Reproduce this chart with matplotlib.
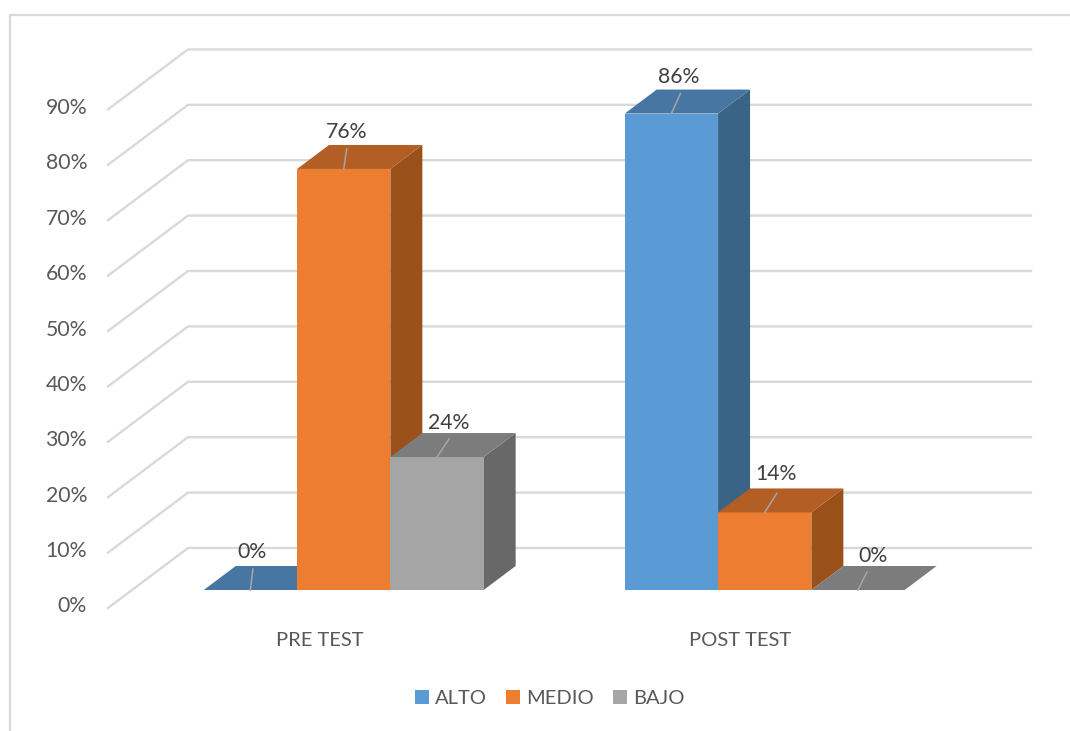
import matplotlib.pyplot as plt
from matplotlib.patches import Polygon, Rectangle

categories = ["PRE TEST", "POST TEST"]
series_names = ["ALTO", "MEDIO", "BAJO"]
alto = [0, 86]
medio = [76, 14]
bajo = [24, 0]
yticks = [0, 10, 20, 30, 40, 50, 60, 70, 80, 90]

front_cols = ["#5B9BD5", "#ED7D31", "#A5A5A5"]
top_cols = ["#4676A1", "#B25E25", "#7C7C7C"]
side_cols = ["#3A6485", "#995019", "#686868"]

plt.rcParams["font.family"] = ["Lato", "DejaVu Sans"]

W, H = 1070, 731
PX_X = 421.0    # pixels per category
PX_Y = 5.54     # pixels per percent
X0, Y0 = 343.7, 590.0   # pixel of category 0, value 0


def dx(px):
    return px / PX_X


def dy(px):
    return px / PX_Y


fig = plt.figure(figsize=(10.7, 7.31), dpi=100)
ax = fig.add_axes([0, 0, 1, 1])
ax.set_xlim(-X0 / PX_X, (W - X0) / PX_X)
ax.set_ylim(-(H - Y0) / PX_Y, Y0 / PX_Y)
ax.axis("off")

# chart frame, only left and top show in the picture
ax.plot([dx(9.5 - X0), dx(9.5 - X0), dx(W - X0)],
        [dy(Y0 - H), dy(Y0 - 14.5), dy(Y0 - 14.5)], color="#D9D9D9", lw=1.6)

# back wall grid with the slanted floor/side part
for v in yticks:
    ax.plot([dx(108 - X0), dx(188 - X0), dx(1031 - X0)],
            [v + dy(Y0 - 608), v + dy(Y0 - 548), v + dy(Y0 - 548)],
            color="#D9D9D9", lw=1.7, zorder=1)
    ax.text(dx(87 - X0), v + dy(Y0 - 606.5), "%d%%" % v, ha="right", va="center",
            fontsize=15.3, color="#595959")

width = 93.3 / PX_X
depth_x, depth_y = dx(32), dy(24)
values = [alto, medio, bajo]

# label and leader offsets in pixels from the front top centre of the bar
label_off = [[(2, -38), (7.5, -37)], [(2.5, -37), (11, -38)], [(12, -34), (15, -34.5)]]
leader_off = [[(2.5, -21), (9, -20)], [(3, -20), (12, -19)], [(12, -18), (9, -18)]]

z = 2
for c in range(len(categories)):
    for s in range(3):
        val = values[s][c]
        left = c + (s - 1.5) * width
        right = left + width
        ax.bar(left, val, width, align="edge", color=front_cols[s], zorder=z + 1)
        ax.add_patch(Polygon([(right, 0), (right + depth_x, depth_y),
                              (right + depth_x, val + depth_y), (right, val)],
                             closed=True, fc=side_cols[s], ec="none", zorder=z))
        ax.add_patch(Polygon([(left, val), (right, val),
                              (right + depth_x, val + depth_y), (left + depth_x, val + depth_y)],
                             closed=True, fc=top_cols[s], ec="none", zorder=z + 1))
        mid = left + width / 2
        lx, ly = leader_off[s][c]
        ax.plot([mid, mid + dx(lx)], [val, val - dy(ly)], color="#A6A6A6", lw=1.1, zorder=z + 2)
        tx, ty = label_off[s][c]
        ax.text(mid + dx(tx), val - dy(ty), "%d%%" % val, ha="center", va="center",
                fontsize=15.3, color="#404040", zorder=20)
        z += 3

for c, name in enumerate(categories):
    ax.text(c - dx(24 if c == 0 else 25), dy(Y0 - 640), name, ha="center", va="center",
            fontsize=14.5, color="#595959")

handles = [Rectangle((0, 0), 1, 1, fc=col, ec="none") for col in front_cols]
fig.legend(handles, series_names, loc="center", bbox_to_anchor=(550 / W, 1 - 698.5 / H),
           ncol=3, frameon=False, fontsize=14.5, labelcolor="#595959",
           handlelength=0.7, handleheight=0.7, handletextpad=0.3, columnspacing=0.95)

fig.savefig("out.png", dpi=100, facecolor="white")
